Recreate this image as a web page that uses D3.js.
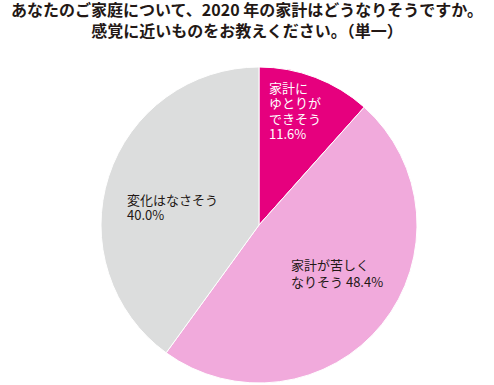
<!DOCTYPE html>
<html>
  <head>
    <meta charset="utf-8">
    <script src="https://d3js.org/d3.v7.min.js"></script>
    <style>
      body { margin: 0; background: #fff; }
      text { font-family: "Noto Sans CJK JP", "Noto Sans", sans-serif; }
    </style>
  </head>
  <body>
    <script type="text/javascript">
      "use strict";
      // data
      var categories = ["家計にゆとりができそう", "家計が苦しくなりそう", "変化はなさそう"];
      var values = [11.6, 48.4, 40.0];
      var labelLines = [
        ["家計に", "ゆとりが", "できそう", "11.6%"],
        ["家計が苦しく", "なりそう 48.4%"],
        ["変化はなさそう", "40.0%"]
      ];
      var titleLines = [
        "あなたのご家庭について、2020 年の家計はどうなりそうですか。",
        "感覚に近いものをお教えください。（単一）"
      ];

      var colors = ["#e6007e", "#f1aadc", "#dcdddd"];
      var textColors = ["#ffffff", "#231815", "#231815"];
      // label anchor (left, first baseline) relative to pie centre, line height
      var labelLayout = [
        { dx: 10, dy: -132, lh: 15.3 },
        { dx: 32, dy: 45, lh: 16.5 },
        { dx: -132, dy: -20, lh: 15 }
      ];

      var width = 494, height = 385;
      var cx = 259, cy = 225, radius = 158;

      var svg = d3.select("body")
        .append("svg")
          .attr("width", width)
          .attr("height", height);

      svg.selectAll("text.title")
        .data(titleLines)
        .enter()
        .append("text")
          .attr("class", "title")
          .attr("x", 247)
          .attr("y", function (d, i) { return 16 + i * 21; })
          .attr("text-anchor", "middle")
          .style("font-size", "16px")
          .style("font-weight", "bold")
          .style("fill", "#231815")
          .text(function (d) { return d; });

      var pie = d3.pie().sort(null).value(function (d) { return d; });
      var arc = d3.arc().innerRadius(0).outerRadius(radius);

      var g = svg.append("g")
        .attr("transform", "translate(" + cx + "," + cy + ")");

      g.selectAll("path")
        .data(pie(values))
        .enter()
        .append("path")
          .attr("d", arc)
          .style("fill", function (d, i) { return colors[i]; })
          .style("stroke", "#fff")
          .style("stroke-width", 1);

      // one text element per line
      labelLines.forEach(function (lines, i) {
        var lay = labelLayout[i];
        g.selectAll("text.lbl" + i)
          .data(lines)
          .enter()
          .append("text")
            .attr("class", "lbl" + i)
            .attr("x", lay.dx)
            .attr("y", function (d, j) { return lay.dy + j * lay.lh; })
            .style("font-size", "13px")
            .style("fill", textColors[i])
            .text(function (d) { return d; });
      });
    </script>
  </body>
</html>
